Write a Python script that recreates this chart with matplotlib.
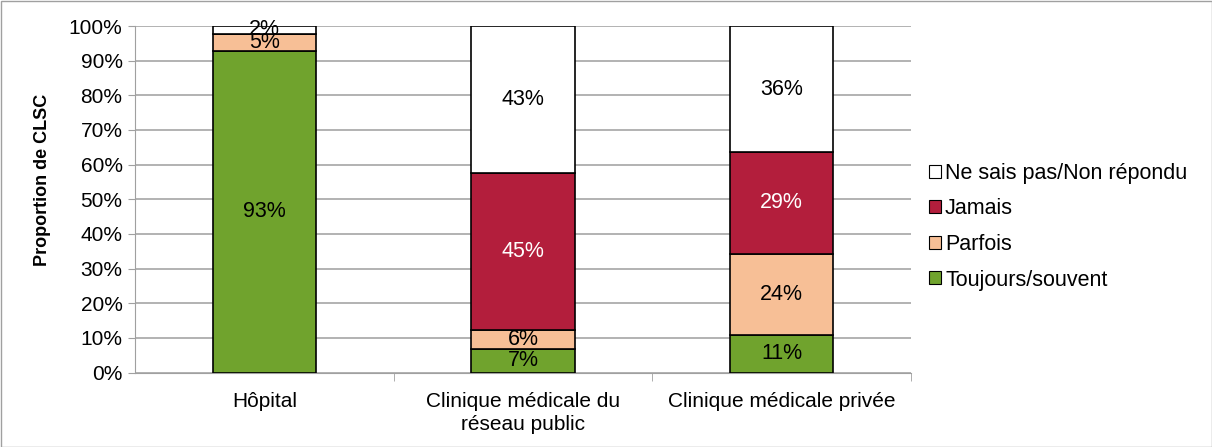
import matplotlib
matplotlib.use("Agg")
import matplotlib.pyplot as plt
import numpy as np

plt.rcParams['font.family'] = ['Liberation Sans', 'DejaVu Sans']

categories = ["Hôpital", "Clinique médicale du\nréseau public", "Clinique médicale privée"]
series_names = ["Toujours/souvent", "Parfois", "Jamais", "Ne sais pas/Non répondu"]
toujours = [92.8, 6.9, 10.7]
parfois = [4.9, 5.5, 23.6]
jamais = [0.0, 45.1, 29.3]
nsp = [2.3, 42.5, 36.4]
labels_toujours = ["93%", "7%", "11%"]
labels_parfois = ["5%", "6%", "24%"]
labels_jamais = ["", "45%", "29%"]
labels_nsp = ["2%", "43%", "36%"]
colors = ["#70A32D", "#F7BF96", "#B31E3C", "#FFFFFF"]
label_colors = ["black", "black", "white", "black"]

fig = plt.figure(figsize=(12.12, 4.47), dpi=100)
ax = fig.add_axes([135/1212, 1-372.5/447, 776/1212, 346.5/447])

x = np.arange(len(categories))
bottom = np.zeros(len(categories))
all_vals = [toujours, parfois, jamais, nsp]
all_labels = [labels_toujours, labels_parfois, labels_jamais, labels_nsp]
handles = []
for vals, labs, col, lc, name in zip(all_vals, all_labels, colors, label_colors, series_names):
    vals = np.array(vals)
    bars = ax.bar(x, vals, 0.4, bottom=bottom, color=col, edgecolor="black", linewidth=1.2,
                  label=name, zorder=3)
    handles.append(bars)
    for xi, v, b, lab in zip(x, vals, bottom, labs):
        if lab:
            ax.text(xi, b + v/2, lab, ha="center", va="center", fontsize=15.5, color=lc, zorder=4)
    bottom += vals

ax.set_xlim(-0.5, 2.5)
ax.set_ylim(0, 100)
ax.set_yticks(np.arange(0, 101, 10))
ax.set_yticklabels([f"{v}%" for v in range(0, 101, 10)], fontsize=15)
ax.set_xticks(x)
ax.set_xticklabels(categories, fontsize=15, linespacing=1.3)
ax.tick_params(axis='x', length=0, pad=14)
ax.tick_params(axis='y', length=5, color="#A0A0A0", pad=4)
ax.set_xticks([0.5, 1.5, 2.5], minor=True)
ax.tick_params(axis='x', which='minor', length=6, color="#A0A0A0")
ax.yaxis.grid(True, color="#A6A6A6", linewidth=1.2, zorder=0)
for s in ["top", "right"]:
    ax.spines[s].set_visible(False)
ax.spines["left"].set_color("#A0A0A0")
ax.spines["bottom"].set_color("#A0A0A0")
ax.set_ylabel("Proportion de CLSC", fontsize=13, fontweight="bold")
ax.yaxis.set_label_coords(-84/776, 0.556)

leg = ax.legend(handles=handles[::-1], labels=series_names[::-1], loc="center left",
                bbox_to_anchor=(1.012, 0.421), frameon=False, fontsize=15.5,
                handlelength=0.55, handleheight=0.55, handletextpad=0.2, labelspacing=0.68,
                borderaxespad=0)
for h in leg.legend_handles:
    h.set_linewidth(0.8)

fig.patches.append(plt.Rectangle((0.5/1212, 0.5/447), 1-1/1212, 1-1/447, transform=fig.transFigure,
                                 fill=False, edgecolor="#A0A0A0", linewidth=1))
fig.savefig("out.png", dpi=100)
